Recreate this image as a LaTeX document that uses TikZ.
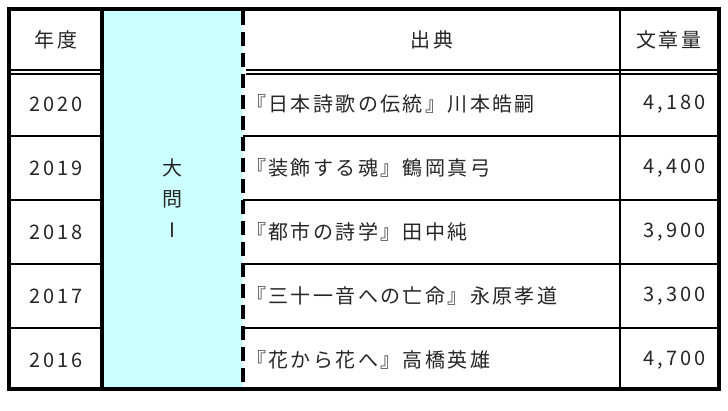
\documentclass[tikz,border=0pt]{standalone}
\usepackage{fontspec}
\setmainfont{Noto Sans CJK JP}
\definecolor{lcyan}{RGB}{204,255,255}
\begin{document}
\begin{tikzpicture}[x=1pt,y=-1pt,
  txt/.style={font=\fontsize{20}{22}\selectfont, text=black!85, inner sep=0pt},
  src/.style={txt, font=\fontsize{20}{22}\selectfont\addfontfeatures{LetterSpace=12}},
  num/.style={txt, font=\fontsize{20}{22}\selectfont\addfontfeatures{LetterSpace=16}},
  thin line/.style={line width=1.2pt},
  thick line/.style={line width=3.5pt}]
\useasboundingbox (0,0) rectangle (728,410);
\fill[white] (0,0) rectangle (728,410);
\fill[lcyan] (102,9) rectangle (243,389);
% thin horizontal lines
\foreach \y in {136,200,264,328} {
  \draw[thin line] (9,\y) -- (102,\y);
  \draw[thin line] (243,\y) -- (719,\y);
}
\draw[thin line] (620,9) -- (620,389);
% header double line
\draw[line width=2.2pt] (9,70) -- (102,70);
\draw[line width=2.2pt] (246,70) -- (719,70);
\draw[thin line] (9,74) -- (102,74);
\draw[thin line] (246,74) -- (719,74);
% middle column borders
\draw[thick line] (102,9) -- (102,389);
\draw[thick line, dash pattern=on 14pt off 7pt] (243,11) -- (243,389);
% outer
\draw[thick line] (9,9) rectangle (719,389);
% header
\node[src] (h1) at (56,40) {年度};
\node[src] (h2) at (432,40) {出典};
\node[src] (h3) at (669,40) {文章量};
\node[txt, align=center, font=\fontsize{20}{31}\selectfont] (mid) at (172,198) {大\\問\\I};
\foreach \yr/\s/\n [count=\i] in {2020/『日本詩歌の伝統』川本皓嗣/{4,180},
  2019/『装飾する魂』鶴岡真弓/{4,400},
  2018/『都市の詩学』田中純/{3,900},
  2017/『三十一音への亡命』永原孝道/{3,300},
  2016/『花から花へ』高橋英雄/{4,700}} {
  \node[num] (y\i) at (56,{40+64*\i}) {\yr};
  \node[src, anchor=west] (s\i) at (246,{40+64*\i}) {\s};
  \node[num, anchor=east] (n\i) at (706,{40+64*\i}) {\n};
}
\end{tikzpicture}
\end{document}
